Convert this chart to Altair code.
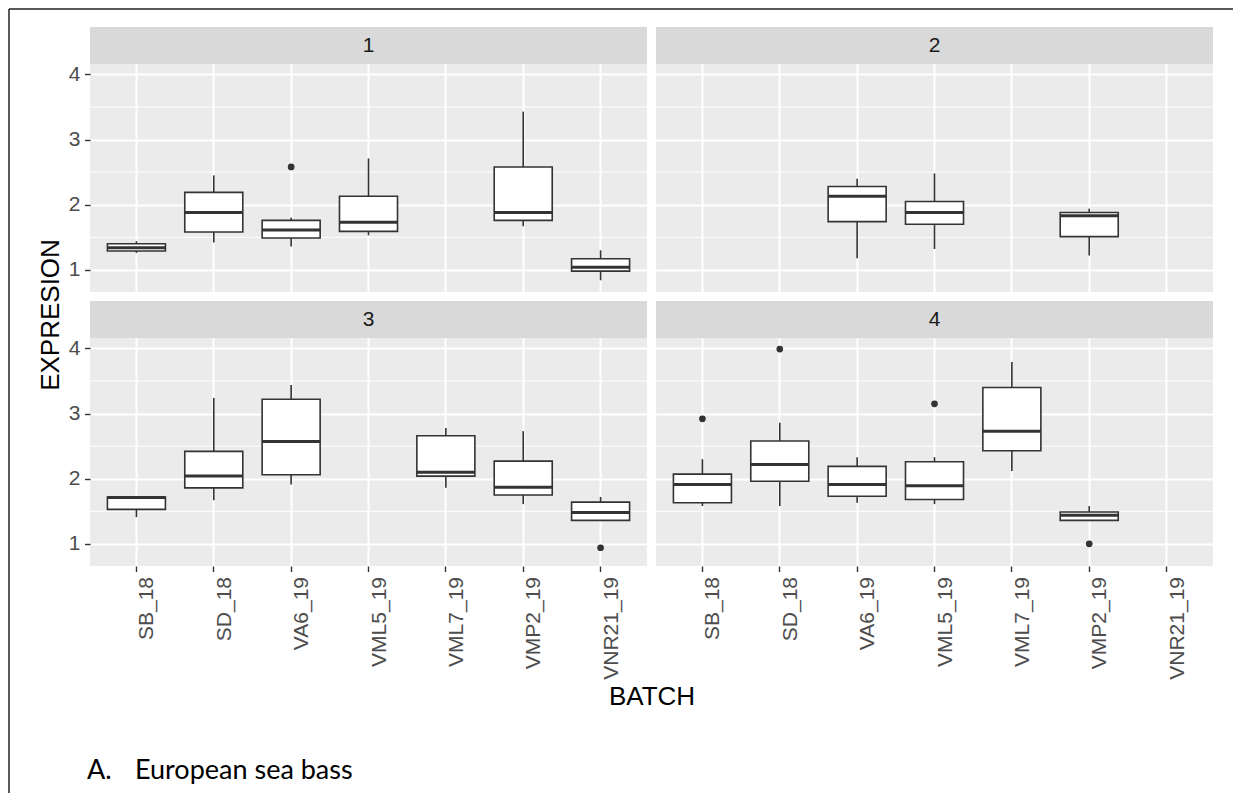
import altair as alt
import pandas as pd

BATCHES = ["SB_18", "SD_18", "VA6_19", "VML5_19", "VML7_19", "VMP2_19", "VNR21_19"]
PANELS = ["1", "2", "3", "4"]
N = None

# box statistics per panel, one value per batch (None = no data in that panel)
LO = [
    [1.26, 1.42, 1.36, 1.53, N, 1.67, 0.84],
    [N, N, 1.18, 1.32, N, 1.22, N],
    [1.41, 1.67, 1.91, N, 1.86, 1.61, 1.36],
    [1.58, 1.58, 1.63, 1.61, 2.12, 1.36, N],
]
Q1 = [
    [1.29, 1.58, 1.49, 1.59, N, 1.76, 0.98],
    [N, N, 1.74, 1.70, N, 1.51, N],
    [1.53, 1.86, 2.06, N, 2.04, 1.75, 1.36],
    [1.63, 1.96, 1.73, 1.68, 2.43, 1.36, N],
]
MED = [
    [1.34, 1.88, 1.61, 1.73, N, 1.88, 1.04],
    [N, N, 2.13, 1.88, N, 1.83, N],
    [1.71, 2.04, 2.57, N, 2.10, 1.87, 1.48],
    [1.91, 2.22, 1.91, 1.89, 2.73, 1.44, N],
]
Q3 = [
    [1.40, 2.19, 1.76, 2.13, N, 2.58, 1.17],
    [N, N, 2.28, 2.05, N, 1.88, N],
    [1.72, 2.42, 3.22, N, 2.66, 2.27, 1.64],
    [2.07, 2.58, 2.19, 2.26, 3.40, 1.49, N],
]
HI = [
    [1.44, 2.45, 1.80, 2.71, N, 3.43, 1.30],
    [N, N, 2.40, 2.48, N, 1.94, N],
    [1.72, 3.24, 3.44, N, 2.78, 2.73, 1.72],
    [2.30, 2.86, 2.33, 2.33, 3.79, 1.58, N],
]

OUT_PANEL = ["1", "3", "4", "4", "4", "4"]
OUT_BATCH = ["VA6_19", "VNR21_19", "SB_18", "SD_18", "VML5_19", "VMP2_19"]
OUT_VALUE = [2.58, 0.94, 2.92, 3.99, 3.15, 1.00]

Y_MAJOR = [1, 2, 3, 4]
Y_MINOR = [1.5, 2.5, 3.5]
Y_DOMAIN = [0.66, 4.16]

W, H = 557, 228
STRIP = 37
BW = W / 7.2 * 0.75
LINE = "#333333"
FONT = "Liberation Sans"

outliers = pd.DataFrame({"panel": OUT_PANEL, "batch": OUT_BATCH, "value": OUT_VALUE})


def panel(i, left, bottom, extras=()):
    pid = PANELS[i]
    box = pd.DataFrame({"batch": BATCHES, "lo": LO[i], "q1": Q1[i], "med": MED[i],
                        "q3": Q3[i], "hi": HI[i]}).dropna()
    outl = outliers[outliers.panel == pid]
    one = pd.DataFrame({"label": [pid]})
    xs = alt.Scale(type="band", domain=BATCHES, paddingInner=0.25, paddingOuter=0.225)
    ys = alt.Scale(domain=Y_DOMAIN, nice=False, zero=False)
    grid = dict(grid=True, gridColor="white", gridWidth=2)
    if bottom:
        xa = alt.Axis(title=None, labelAngle=270, labelAlign="right", labelBaseline="top",
                      labelPadding=5, tickSize=5.5, tickColor=LINE, tickWidth=1.4,
                      labelColor="#4D4D4D", labelFontSize=21, labelFont=FONT,
                      domain=False, bandPosition=0.5, labelOverlap=False, **grid)
    else:
        xa = alt.Axis(title=None, labels=False, ticks=False, domain=False,
                      bandPosition=0.5, **grid)
    if left:
        ya = alt.Axis(title=None, values=Y_MAJOR, format="d", labelColor="#4D4D4D",
                      labelFontSize=21, labelFont=FONT, labelPadding=4.5, tickSize=5.5,
                      tickColor=LINE, tickWidth=1.4, domain=False, **grid)
    else:
        ya = alt.Axis(title=None, values=Y_MAJOR, labels=False, ticks=False,
                      domain=False, **grid)
    X = alt.X("batch:N", scale=xs, axis=xa)

    layers = [
        alt.Chart(pd.DataFrame({"v": Y_MINOR})).mark_rule(color="white", strokeWidth=1)
        .encode(y=alt.Y("v:Q", scale=ys, axis=ya)),
        alt.Chart(box).mark_rule(color=LINE, strokeWidth=1.6)
        .encode(x=X, y=alt.Y("lo:Q", scale=ys, axis=ya), y2="hi:Q"),
        alt.Chart(box).mark_bar(fill="white", stroke=LINE, strokeWidth=1.6)
        .encode(x=X, y=alt.Y("q1:Q", scale=ys, axis=ya), y2="q3:Q"),
        alt.Chart(box).mark_tick(color=LINE, thickness=3, size=BW, opacity=1)
        .encode(x=X, y=alt.Y("med:Q", scale=ys, axis=ya)),
    ]
    if len(outl):
        layers.append(
            alt.Chart(outl).mark_circle(color=LINE, size=45, opacity=1)
            .encode(x=X, y=alt.Y("value:Q", scale=ys, axis=ya)))
    layers += [
        alt.Chart(one).mark_rect(fill="#D9D9D9")
        .encode(x=alt.value(0), x2=alt.value(W), y=alt.value(-STRIP), y2=alt.value(0)),
        alt.Chart(one).mark_text(fontSize=21, color="#1A1A1A", font=FONT)
        .encode(x=alt.value(W / 2), y=alt.value(-STRIP / 2), text="label:N"),
    ]
    layers += list(extras)
    return alt.layer(*layers).properties(width=W, height=H)


deco = pd.DataFrame({"label": ["x"]})

p1_extras = [
    # outer frame (top and left edges)
    alt.Chart(deco).mark_rule(color="#222222", strokeWidth=1.5)
    .encode(x=alt.value(-81), x2=alt.value(1143), y=alt.value(-55)),
    alt.Chart(deco).mark_rule(color="#222222", strokeWidth=1.5)
    .encode(x=alt.value(-81), y=alt.value(-55), y2=alt.value(729)),
    alt.Chart(deco).mark_text(text="EXPRESION", angle=270, fontSize=26, color="black",
                              font=FONT, align="center", baseline="middle")
    .encode(x=alt.value(-39), y=alt.value(251)),
]
p3_extras = [
    alt.Chart(deco).mark_text(text="BATCH", fontSize=26, color="black", font=FONT,
                              align="center", baseline="alphabetic")
    .encode(x=alt.value(562), y=alt.value(367)),
    alt.Chart(deco).mark_text(text="A.", fontSize=27, color="black", font="Lato",
                              align="left", baseline="alphabetic")
    .encode(x=alt.value(-3), y=alt.value(441)),
    alt.Chart(deco).mark_text(text="European sea bass", fontSize=27, color="black",
                              font="Lato", align="left", baseline="alphabetic")
    .encode(x=alt.value(45), y=alt.value(441)),
]

p1 = panel(0, True, False, p1_extras)
p2 = panel(1, False, False)
p3 = panel(2, True, True, p3_extras)
p4 = panel(3, False, True)

chart = (
    alt.concat(p1, p2, p3, p4, columns=2, spacing={"row": 46, "column": 9},
               bounds="flush")
    .properties(padding=0, background="white")
    .configure_view(stroke=None, fill="#EBEBEB")
)

chart.save("out.html", embed_options={"renderer": "svg", "actions": False})
